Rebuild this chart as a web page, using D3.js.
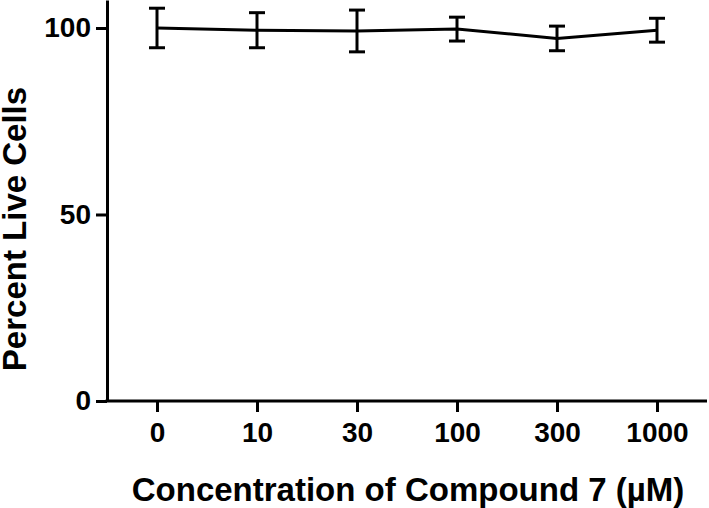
<!DOCTYPE html>
<html>
<head>
<meta charset="utf-8">
<script src="https://cdn.jsdelivr.net/npm/d3@7"></script>
<style>
  body { margin: 0; background: #fff; }
  svg text { font-family: "Liberation Sans", Arial, sans-serif; font-weight: bold; fill: #000; }
</style>
</head>
<body>
<script>
// chart size
const c_width = 709;
const c_height = 508;

// data
const concentrations = ['0', '10', '30', '100', '300', '1000'];
const percentLive = [100, 99.4, 99.2, 99.7, 97.2, 99.4];
const sem = [5.3, 4.7, 5.6, 3.2, 3.3, 3.2];
const yTicks = [0, 50, 100];

const margin = {left: 107, right: 2, top: 0, bottom: 107};

const svg = d3.select('body').append('svg')
  .attr('width', c_width)
  .attr('height', c_height);

const x = d3.scalePoint()
  .domain(concentrations)
  .range([margin.left, c_width - margin.right])
  .padding(0.5);

const y = d3.scaleLinear()
  .domain([0, 107.5])
  .range([c_height - margin.bottom, margin.top]);

// axes
const xAxis = svg.append('g')
  .attr('transform', 'translate(0,' + (c_height - margin.bottom) + ')')
  .call(d3.axisBottom(x).tickSize(11).tickSizeOuter(0).tickPadding(10));

const yAxis = svg.append('g')
  .attr('transform', 'translate(' + margin.left + ',0)')
  .call(d3.axisLeft(y).tickValues(yTicks).tickSize(11).tickSizeOuter(0).tickPadding(5));

[xAxis, yAxis].forEach(ax => {
  ax.select('.domain').attr('stroke', '#000').attr('stroke-width', 3);
  ax.selectAll('.tick line').attr('stroke', '#000').attr('stroke-width', 3);
  ax.selectAll('.tick text').style('font-size', '28px');
});
// let the axes meet at the corner
xAxis.select('.domain').attr('d', 'M' + (margin.left - 1.5) + ',0H' + (c_width - margin.right));

// connecting line
const data = concentrations.map((c, i) => ({c: c, v: percentLive[i], e: sem[i]}));

svg.append('path')
  .datum(data)
  .attr('fill', 'none')
  .attr('stroke', '#000')
  .attr('stroke-width', 3)
  .attr('d', d3.line().x(d => x(d.c)).y(d => y(d.v)));

// error bars
const capW = 8;
const bars = svg.append('g').selectAll('g')
  .data(data)
  .enter()
  .append('g')
  .attr('stroke', '#000')
  .attr('stroke-width', 3);

bars.append('line')
  .attr('x1', d => x(d.c)).attr('x2', d => x(d.c))
  .attr('y1', d => y(d.v + d.e)).attr('y2', d => y(d.v - d.e));
bars.append('line')
  .attr('x1', d => x(d.c) - capW).attr('x2', d => x(d.c) + capW)
  .attr('y1', d => y(d.v + d.e)).attr('y2', d => y(d.v + d.e));
bars.append('line')
  .attr('x1', d => x(d.c) - capW).attr('x2', d => x(d.c) + capW)
  .attr('y1', d => y(d.v - d.e)).attr('y2', d => y(d.v - d.e));

// axis titles
svg.append('text')
  .attr('x', 408)
  .attr('y', 501)
  .attr('text-anchor', 'middle')
  .style('font-size', '33px')
  .text('Concentration of Compound 7 (µM)');

svg.append('text')
  .attr('transform', 'translate(26,229) rotate(-90)')
  .attr('text-anchor', 'middle')
  .style('font-size', '33px')
  .text('Percent Live Cells');
</script>
</body>
</html>
